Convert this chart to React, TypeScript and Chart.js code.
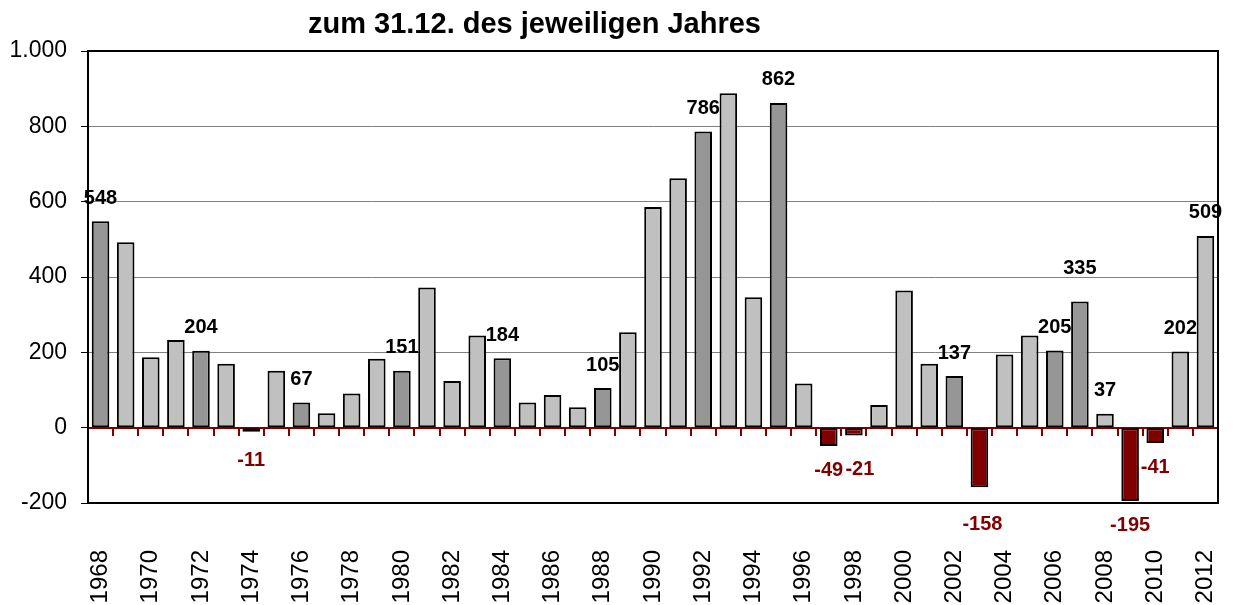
import React, { useEffect, useRef } from "react";
import { Chart, registerables } from "chart.js";

Chart.register(...registerables);

const years = [
  "1968", "1969", "1970", "1971", "1972", "1973", "1974", "1975", "1976", "1977",
  "1978", "1979", "1980", "1981", "1982", "1983", "1984", "1985", "1986", "1987",
  "1988", "1989", "1990", "1991", "1992", "1993", "1994", "1995", "1996", "1997",
  "1998", "1999", "2000", "2001", "2002", "2003", "2004", "2005", "2006", "2007",
  "2008", "2009", "2010", "2011", "2012",
];

const values = [
  548, 492, 187, 233, 204, 170, -11, 151, 67, 38,
  91, 183, 151, 372, 124, 245, 184, 67, 87, 54,
  105, 253, 586, 662, 786, 888, 346, 862, 117, -49,
  -21, 60, 364, 170, 137, -158, 194, 245, 205, 335,
  37, -195, -41, 202, 509,
];

const highlightYears = ["1968", "1972", "1976", "1980", "1984", "1988", "1992", "1995", "2002", "2006", "2007"];

const labelledYears = [
  "1968", "1972", "1974", "1976", "1980", "1984", "1988", "1992", "1995", "1997",
  "1998", "2002", "2003", "2006", "2007", "2008", "2009", "2010", "2011", "2012",
];

const yTicks = [-200, 0, 200, 400, 600, 800, 1000];

const titleText = "zum 31.12. des jeweiligen Jahres";

const LIGHT = "#C0C0C0";
const DARK = "#969696";
const NEG = "#800000";
const FONT = "'Liberation Sans', Arial, Helvetica, sans-serif";

const labelNudge: Record<string, { dx?: number; dy?: number }> = {
  "2007": { dy: -10 },
  "1974": { dy: 5 },
  "1998": { dy: 10, dx: 6 },
  "2003": { dy: 13, dx: 3 },
};

function formatDe(v: number): string {
  const s = Math.abs(v).toString();
  const withDots = s.replace(/\B(?=(\d{3})+(?!\d))/g, ".");
  return (v < 0 ? "-" : "") + withDots;
}

if (typeof document !== "undefined") {
  document.body.style.margin = "0";
  document.documentElement.style.overflow = "hidden";
}

const valueLabels = {
  id: "valueLabels",
  afterDatasetsDraw(chart: any) {
    const ctx = chart.ctx;
    const meta = chart.getDatasetMeta(0);
    ctx.save();
    ctx.font = `bold 20px ${FONT}`;
    ctx.textAlign = "center";
    ctx.textBaseline = "middle";
    meta.data.forEach((bar: any, i: number) => {
      const year = years[i];
      if (!labelledYears.includes(year)) return;
      const v = values[i];
      const n = labelNudge[year] || {};
      const x = bar.x + (n.dx || 0);
      let y: number;
      if (v >= 0) {
        y = bar.y - 23 + (n.dy || 0);
        ctx.fillStyle = "#000";
      } else {
        y = bar.y + 24 + (n.dy || 0);
        ctx.fillStyle = NEG;
      }
      ctx.fillText(String(v), x, y);
    });
    ctx.restore();
  },
};

const frame = {
  id: "frame",
  afterDraw(chart: any) {
    const { ctx, chartArea } = chart;
    ctx.save();
    ctx.strokeStyle = "#000";
    ctx.lineWidth = 2;
    ctx.strokeRect(chartArea.left, chartArea.top, chartArea.right - chartArea.left, chartArea.bottom - chartArea.top);
    ctx.restore();
  },
};

export default function App() {
  const canvasRef = useRef<HTMLCanvasElement | null>(null);

  useEffect(() => {
    if (!canvasRef.current) return;
    const colors = values.map((v, i) => (v < 0 ? NEG : highlightYears.includes(years[i]) ? DARK : LIGHT));
    const chart = new Chart(canvasRef.current, {
      type: "bar",
      data: {
        labels: years,
        datasets: [
          {
            data: values,
            backgroundColor: colors,
            borderColor: "#000",
            borderWidth: 2,
            borderSkipped: false,
            categoryPercentage: 1,
            barPercentage: 0.7,
          } as any,
        ],
      },
      options: {
        animation: false,
        responsive: true,
        maintainAspectRatio: false,
        layout: { padding: { top: 51, right: 16, left: 0, bottom: 0 } },
        plugins: {
          legend: { display: false },
          tooltip: { enabled: false },
          title: { display: false },
        },
        scales: {
          x: {
            type: "category",
            offset: true,
            grid: { display: false, drawTicks: true, tickLength: 41 },
            border: { display: false },
            ticks: {
              autoSkip: false,
              minRotation: 90,
              maxRotation: 90,
              padding: 6,
              color: "#000",
              font: { family: FONT, size: 24 },
              callback: (_v: any, i: number) => (i % 2 === 0 ? years[i] : ""),
            },
            afterFit: (scale: any) => {
              scale.height = 102;
              scale.paddingLeft = 0;
              scale.paddingRight = 0;
            },
          },
          x2: {
            type: "category",
            position: { y: 0 } as any,
            offset: true,
            z: 1,
            grid: {
              offset: true,
              drawOnChartArea: false,
              drawTicks: true,
              tickLength: 7,
              tickColor: NEG,
              color: NEG,
              lineWidth: 2,
            },
            border: { display: true, color: NEG, width: 2 },
            ticks: { display: false, autoSkip: false },
          } as any,
          y: {
            min: -200,
            max: 1000,
            afterBuildTicks: (scale: any) => {
              scale.ticks = yTicks.map((v) => ({ value: v }));
            },
            grid: {
              color: "#808080",
              lineWidth: 1,
              tickColor: "#000",
              tickLength: 7,
            },
            border: { display: true, color: "#000", width: 2 },
            ticks: {
              padding: 14,
              color: "#000",
              font: { family: FONT, size: 23 },
              callback: (v: any) => formatDe(Number(v)),
            },
            afterFit: (scale: any) => {
              scale.width = 88;
              scale.paddingTop = 0;
              scale.paddingBottom = 0;
            },
          },
        },
      },
      plugins: [valueLabels, frame],
    });
    return () => chart.destroy();
  }, []);

  return (
    <div style={{ position: "relative", width: 1234, height: 605, background: "#fff" }}>
      <canvas ref={canvasRef} />
      <div
        style={{
          position: "absolute",
          left: 308,
          top: 7,
          fontFamily: FONT,
          fontWeight: "bold",
          fontSize: 29,
          lineHeight: "32px",
          whiteSpace: "nowrap",
          color: "#000",
        }}
      >
        {titleText}
      </div>
    </div>
  );
}
